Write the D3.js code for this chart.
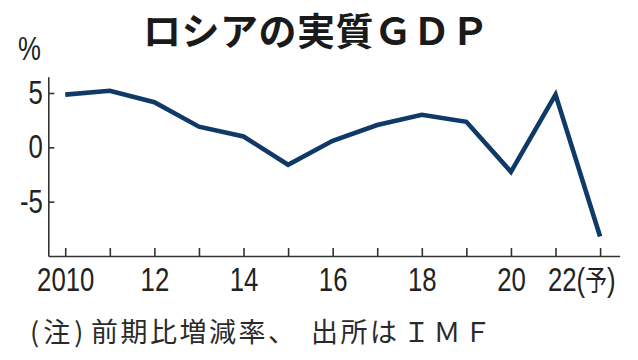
<!DOCTYPE html>
<html>
<head>
<meta charset="utf-8">
<script src="https://cdn.jsdelivr.net/npm/d3@7"></script>
<style>
  body { margin: 0; background: #fff; }
  svg text { fill: #222; }
  .ax text, .unit { font-family: "Liberation Sans", Arimo, Arial, sans-serif; font-size: 33px; }
  .cjk { font-family: "Noto Sans CJK JP", sans-serif; }
</style>
</head>
<body>
<div id="chart"></div>
<script>
const years = [2010, 2011, 2012, 2013, 2014, 2015, 2016, 2017, 2018, 2019, 2020, 2021, 2022]
const growth = [4.85, 5.2, 4.15, 1.9, 1.0, -1.6, 0.6, 2.05, 3.0, 2.35, -2.25, 4.85, -8.2]
const yTicks = [-5, 0, 5]
const labelYears = [2010, 2012, 2014, 2016, 2018, 2020, 2022]
const forecastYear = 2022

const titleText = "ロシアの実質ＧＤＰ"
const unitText = "%"
const noteParts = ["(注)", "前期比増減率、", "出所は", "ＩＭＦ"]

const width = 638
const height = 360
const squeeze = 0.78   // the numbers in the original are a narrow face

const svg = d3.select("#chart").append("svg")
    .attr("width", width)
    .attr("height", height)

const x = d3.scaleLinear().domain([2009.62, 2022.44]).range([48.3, 619.7])
const y = d3.scaleLinear().domain([-10, 6.5]).range([256, 76.7])

// title
svg.append("text")
    .attr("class", "cjk")
    .attr("x", 143)
    .attr("y", 45)
    .attr("font-size", 38)
    .attr("font-weight", 700)
    .attr("letter-spacing", 0.5)
    .style("fill", "#1a1a1a")
    .text(titleText)

// unit
svg.append("text")
    .attr("class", "unit")
    .attr("transform", `scale(${squeeze},1)`)
    .attr("x", 18 / squeeze)
    .attr("y", 60)
    .text(unitText)

// y axis
const gy = svg.append("g")
    .attr("class", "ax")
    .attr("transform", `translate(${x.range()[0]},0)`)
    .call(d3.axisLeft(y)
        .tickValues(yTicks)
        .tickSizeInner(-6)
        .tickSizeOuter(0)
        .tickPadding(5.5)
        .tickFormat(d => String(d)))
gy.selectAll(".tick text")
    .attr("transform", `scale(${squeeze},1)`)
    .attr("x", -5.5 / squeeze)
    .attr("dy", "0.32em")

// x axis
const gx = svg.append("g")
    .attr("class", "ax")
    .attr("transform", `translate(0,${y.range()[0]})`)
    .call(d3.axisBottom(x)
        .tickValues(years)
        .tickSizeInner(-8)
        .tickSizeOuter(0)
        .tickPadding(12)
        .tickFormat(d => labelYears.includes(d) ? (d === years[0] ? String(d) : String(d).slice(2)) : ""))
gx.selectAll(".tick text")
    .attr("transform", `scale(${squeeze},1)`)

// forecast label "22(予)"
gx.selectAll(".tick text")
    .filter(d => d === forecastYear)
    .attr("text-anchor", "end")
    .attr("x", 15 / squeeze)
    .each(function () {
        const t = d3.select(this)
        const base = t.text()
        t.text(null)
        t.append("tspan").text(base + "(")
        t.append("tspan").attr("class", "cjk").attr("font-size", 28).text("予")
        t.append("tspan").text(")")
    })

svg.selectAll(".ax path, .ax line")
    .attr("stroke", "#333")
    .attr("stroke-width", 1.6)
svg.selectAll(".ax text").style("fill", "#222")

// line
const line = d3.line()
    .x((d, i) => x(years[i]))
    .y(d => y(d))

svg.append("path")
    .datum(growth)
    .attr("fill", "none")
    .attr("stroke", "#0f3a67")
    .attr("stroke-width", 4.6)
    .attr("stroke-linejoin", "miter")
    .attr("d", line)

// footnote
const note = svg.append("text")
    .attr("class", "cjk")
    .attr("y", 342)
    .attr("font-size", 27)
    .style("fill", "#2a2a2a")
const noteX = [30, 91, 311, 403]
const noteSpacing = [4, 2.5, 2.5, 3.5]
noteParts.forEach((s, i) => {
    note.append("tspan")
        .attr("x", noteX[i])
        .attr("letter-spacing", noteSpacing[i])
        .text(s)
})
</script>
</body>
</html>
